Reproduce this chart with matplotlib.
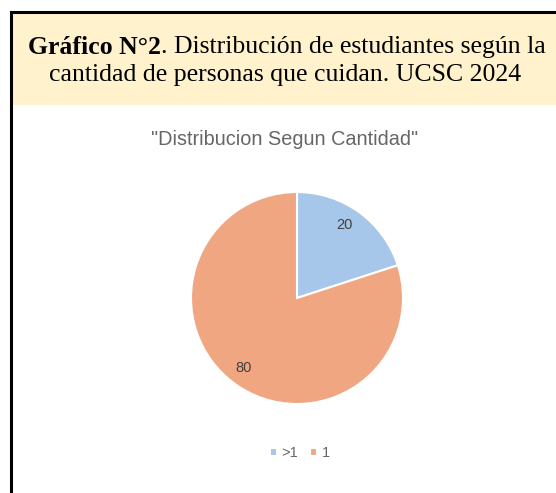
import matplotlib.pyplot as plt
from matplotlib.patches import Rectangle

W, H = 556, 493

categorias = [">1", "1"]
valores = [20, 80]
colores = ["#A7C7EA", "#F0A781"]

fig = plt.figure(figsize=(W / 100, H / 100), dpi=100)
fig.patch.set_facecolor("white")

def px(x, y):
    # pixeles (desde arriba a la izquierda) -> coordenadas de figura
    return x / W, 1 - y / H

# recuadro del encabezado
x0, y0 = px(11, 105)
fig.patches.append(Rectangle((x0, y0), 1 - x0 + 0.01, (105 - 12) / H,
                             transform=fig.transFigure, facecolor="#FFF2CC",
                             edgecolor="none", zorder=0))
# marco negro
fig.add_artist(plt.Line2D([11 / W, 11 / W], [1 - 12 / H, -0.01], color="black",
                          lw=2.2, transform=fig.transFigure))
fig.add_artist(plt.Line2D([11 / W, 1.01], [1 - 12 / H, 1 - 12 / H], color="black",
                          lw=2.2, transform=fig.transFigure))

serif = "Liberation Serif"
sans = "Liberation Sans"
fs = 18.5
centro = 287
ty = px(0, 47)[1]
negrita = fig.text(0, ty, "Gráfico N°2", fontfamily=serif, fontsize=fs,
                   fontweight="bold", ha="left", va="center")
resto = fig.text(0, ty, ". Distribución de estudiantes según la",
                 fontfamily=serif, fontsize=fs, ha="left", va="center")
rend = fig.canvas.get_renderer()
w1 = negrita.get_window_extent(rend).width
w2 = resto.get_window_extent(rend).width
inicio = centro - (w1 + w2) / 2
negrita.set_x(inicio / W)
resto.set_x((inicio + w1) / W)
fig.text(*px(centro - 2, 75), "cantidad de personas que cuidan. UCSC 2024",
         fontfamily=serif, fontsize=fs, ha="center", va="center")

# titulo del grafico
fig.text(*px(285, 140), '"Distribucion Segun Cantidad"', fontfamily=sans,
         fontsize=14.3, color="#666666", ha="center", va="center")

# pastel
r = 106
cx, cy = 297, 298
ax = fig.add_axes([(cx - r) / W, 1 - (cy + r) / H, 2 * r / W, 2 * r / H])
wedges, textos = ax.pie(valores, colors=colores, startangle=90, counterclock=False,
                        wedgeprops=dict(edgecolor="white", linewidth=1.5),
                        labels=None)
ax.set_aspect("auto")
ax.set_xlim(-1, 1)
ax.set_ylim(-1, 1)
ax.axis("off")

# etiquetas de datos
ax.text(0.45, 0.69, str(valores[0]), fontfamily=sans,
        fontsize=10.5, color="#404040", ha="center", va="center")
ax.text(-0.5, -0.66, str(valores[1]), fontfamily=sans,
        fontsize=10.5, color="#404040", ha="center", va="center")

# leyenda
leg = fig.legend(wedges, categorias, loc="center", bbox_to_anchor=px(300, 453),
                 ncol=2, frameon=False, handlelength=0.45, handleheight=0.45,
                 handletextpad=0.35, columnspacing=0.8,
                 prop={"family": sans, "size": 10.5})
for t in leg.get_texts():
    t.set_color("#666666")

fig.savefig("out.png", dpi=100)
